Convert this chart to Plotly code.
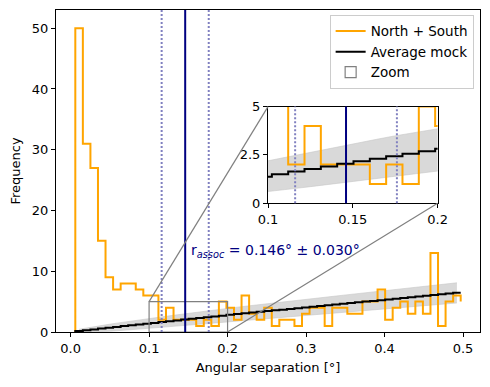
# histograma de separación angular con inset de zoom
import numpy as np
import plotly.graph_objects as go

# datos
bin_start = 0.006
bin_stop = 0.497
n_bins = 51

counts_ns = [50, 31, 27, 15, 9, 7, 8, 8, 7, 6, 6,
             2, 4, 2, 2, 2, 1, 2, 1, 5, 4,
             2, 6, 3, 2, 4, 1, 2, 2, 1, 3,
             4, 4, 1, 4, 4, 3, 3, 5, 5, 7,
             2, 4, 5, 3, 5, 3, 13, 1, 5, 6]
ns_end = 5  # último tramo vertical al final de la curva

mock_mean = [0.15, 0.28, 0.42, 0.56, 0.69, 0.83, 0.97, 1.10, 1.24, 1.37, 1.50,
             1.64, 1.77, 1.90, 2.04, 2.17, 2.30, 2.43, 2.56, 2.69, 2.82,
             2.95, 3.07, 3.20, 3.32, 3.44, 3.56, 3.68, 3.80, 3.92, 4.04,
             4.16, 4.28, 4.40, 4.52, 4.64, 4.76, 4.88, 5.00, 5.12, 5.24,
             5.36, 5.48, 5.60, 5.72, 5.84, 5.96, 6.08, 6.20, 6.32, 6.44]

mock_std = [0.30, 0.40, 0.47, 0.53, 0.58, 0.63, 0.68, 0.72, 0.76, 0.80, 0.84,
            0.87, 0.90, 0.93, 0.96, 0.99, 1.02, 1.05, 1.07, 1.10, 1.12,
            1.14, 1.17, 1.19, 1.21, 1.23, 1.25, 1.27, 1.29, 1.31, 1.33,
            1.35, 1.37, 1.39, 1.40, 1.42, 1.44, 1.46, 1.47, 1.49, 1.51,
            1.52, 1.54, 1.55, 1.57, 1.58, 1.60, 1.61, 1.63, 1.64, 1.66]

r_assoc = 0.146
r_err = 0.030

zoom_x = [0.1, 0.2]
zoom_y = [0, 5]

# preparar arrays
edges = np.linspace(bin_start, bin_stop, n_bins + 1)
centers = 0.5 * (edges[:-1] + edges[1:])
step_ns_x = list(edges) + [edges[-1]]
step_ns_y = [0] + counts_ns + [ns_end]
step_mock = [0] + mock_mean
upper = np.array(mock_mean) + np.array(mock_std)
lower = np.clip(np.array(mock_mean) - np.array(mock_std), 0, None)

orange = '#FFA500'
navy = '#000080'
navy_light = '#8080C0'
band_col = '#D9D9D9'
gris = '#808080'

main_xrange = [-0.0186, 0.5216]
main_yrange = [0, 53]
inset_dom_x = [0.5, 0.9]
inset_dom_y = [0.4, 0.7]

fig = go.Figure()

# trazas en los dos ejes (principal e inset)
for xa, ya, leg in [('x', 'y', True), ('x2', 'y2', False)]:
    fig.add_trace(go.Scatter(x=centers, y=lower, mode='lines', line=dict(color='#C8C8C8', width=0.6),
                             showlegend=False, hoverinfo='skip', xaxis=xa, yaxis=ya))
    fig.add_trace(go.Scatter(x=centers, y=upper, mode='lines', line=dict(color='#C8C8C8', width=0.6),
                             fill='tonexty', fillcolor=band_col,
                             showlegend=False, hoverinfo='skip', xaxis=xa, yaxis=ya))
    fig.add_trace(go.Scatter(x=step_ns_x, y=step_ns_y, mode='lines', line=dict(color=orange, width=2, shape='vh'),
                             name='North + South', showlegend=leg, xaxis=xa, yaxis=ya))
    fig.add_trace(go.Scatter(x=edges, y=step_mock, mode='lines', line=dict(color='black', width=2, shape='vh'),
                             name='Average mock', showlegend=leg, xaxis=xa, yaxis=ya))

# rectángulo del zoom (forma) + entrada de leyenda
fig.add_shape(type='rect', x0=zoom_x[0], x1=zoom_x[1], y0=zoom_y[0], y1=zoom_y[1], xref='x', yref='y',
              line=dict(color=gris, width=1.2))
fig.add_trace(go.Scatter(x=[None], y=[None], mode='markers', name='Zoom',
                         marker=dict(symbol='square-open', size=11, color=gris, line=dict(width=1.2))))

# líneas verticales r_assoc
for xref, yref in [('x', 'y domain'), ('x2', 'y2 domain')]:
    fig.add_shape(type='line', x0=r_assoc, x1=r_assoc, y0=0, y1=1, xref=xref, yref=yref,
                  line=dict(color=navy, width=2))
    for xv in [r_assoc - r_err, r_assoc + r_err]:
        fig.add_shape(type='line', x0=xv, x1=xv, y0=0, y1=1, xref=xref, yref=yref,
                      line=dict(color=navy_light, width=2, dash='2px,2px'))

# conectores del zoom al inset
def paper_to_data(fx, fy):
    return (main_xrange[0] + fx * (main_xrange[1] - main_xrange[0]),
            main_yrange[0] + fy * (main_yrange[1] - main_yrange[0]))

tl = paper_to_data(inset_dom_x[0], inset_dom_y[1])
br = paper_to_data(inset_dom_x[1], inset_dom_y[0])
fig.add_shape(type='line', x0=zoom_x[0], y0=zoom_y[1], x1=tl[0], y1=tl[1], xref='x', yref='y',
              line=dict(color=gris, width=1.2))
fig.add_shape(type='line', x0=zoom_x[1], y0=zoom_y[0], x1=br[0], y1=br[1], xref='x', yref='y',
              line=dict(color=gris, width=1.2))

fig.add_annotation(x=0.151, y=13.3, xref='x', yref='y', showarrow=False, xanchor='left', yanchor='middle',
                   text='r<sub><i>assoc</i></sub> = 0.146° ± 0.030°',
                   font=dict(color=navy, size=14))

axis_style = dict(showline=True, linecolor='black', linewidth=1, mirror=True, ticks='outside',
                  ticklen=4, tickcolor='black', showgrid=False, zeroline=False, automargin=False,
                  tickfont=dict(size=13, color='black'))

# el body del html tiene 8px de margen: la figura se reduce para caber en la ventana
fig.update_layout(
    template='none',
    width=482, height=379,
    margin=dict(l=48, r=10, t=2, b=55),
    paper_bgcolor='white', plot_bgcolor='white',
    font=dict(family='DejaVu Sans', size=13, color='black'),
    xaxis=dict(range=main_xrange, tickvals=[0, 0.1, 0.2, 0.3, 0.4, 0.5], tickformat='.1f',
               title=dict(text='Angular separation [°]', standoff=8, font=dict(size=13)),
               domain=[0, 1], **axis_style),
    yaxis=dict(range=main_yrange, tickvals=[0, 10, 20, 30, 40, 50],
               title=dict(text='Frequency', standoff=10, font=dict(size=13)),
               domain=[0, 1], **axis_style),
    xaxis2=dict(range=zoom_x, tickvals=[0.1, 0.15, 0.2], ticktext=['0.1', '0.15', '0.2'],
                domain=inset_dom_x, anchor='y2', **axis_style),
    yaxis2=dict(range=zoom_y, tickvals=[0, 2.5, 5], ticktext=['0', '2.5', '5'],
                domain=inset_dom_y, anchor='x2', **axis_style),
    legend=dict(x=0.985, y=0.985, xanchor='right', yanchor='top', bgcolor='white',
                bordercolor='#CCCCCC', borderwidth=1, font=dict(size=13.5), traceorder='normal'),
)

fig.write_html("out.html")
